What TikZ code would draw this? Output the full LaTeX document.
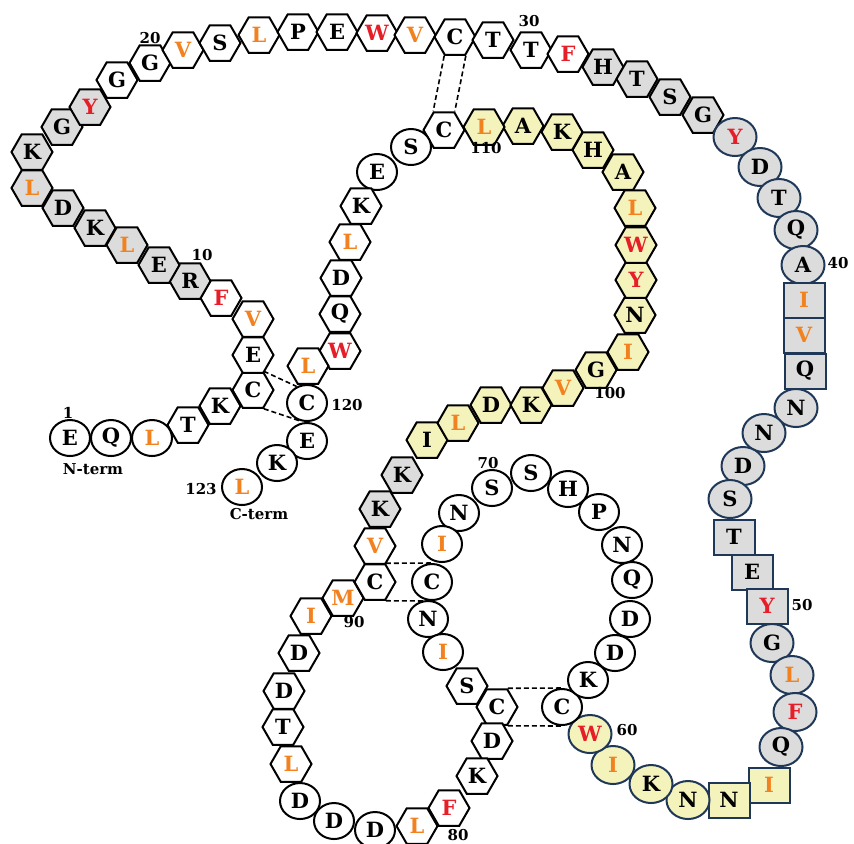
\documentclass[tikz,border=0pt]{standalone}
\usepackage{fontspec}
\setmainfont{DejaVu Serif}
\usepackage{tikz}
\usetikzlibrary{shapes.geometric}
\definecolor{resgray}{RGB}{220,220,220}
\definecolor{resyellow}{RGB}{245,243,188}
\definecolor{resnavy}{RGB}{31,56,88}
\definecolor{resorange}{RGB}{242,130,32}
\definecolor{resred}{RGB}{230,30,40}

\begin{document}
\begin{tikzpicture}[x=0.5pt, y=-0.5pt,
    res/.style={font=\fontsize{10.5}{10.5}\selectfont\bfseries, inner sep=0pt, line width=1pt},
    hexw/.style={res, regular polygon, regular polygon sides=6, minimum size=20.5pt, draw, fill=white},
    hexg/.style={hexw, fill=resgray},
    hexy/.style={hexw, fill=resyellow},
    ellw/.style={res, ellipse, minimum width=20pt, minimum height=18pt, draw, fill=white},
    ellg/.style={res, ellipse, minimum width=21.5pt, minimum height=19pt, draw=resnavy, fill=resgray},
    elly/.style={ellg, fill=resyellow},
    boxg/.style={res, rectangle, minimum width=20.5pt, minimum height=17.5pt, draw=resnavy, fill=resgray},
    boxy/.style={boxg, fill=resyellow},
    ora/.style={text=resorange},
    rd/.style={text=resred},
    lbl/.style={font=\fontsize{7.5}{7.5}\selectfont\bfseries, inner sep=0pt},
    ssbond/.style={dash pattern=on 2.5pt off 1.5pt, line width=0.8pt}]
  \useasboundingbox (0,0) rectangle (854,843);

  % N-terminal segment
  \node[ellw] (r1) at (70,438) {E};
  \node[ellw] (r2) at (111,438) {Q};
  \node[ellw, ora] (r3) at (152,438) {L};
  \node[hexw] (r4) at (188,425) {T};
  \node[hexw] (r5) at (220,406) {K};
  \node[hexw] (r6) at (253,390) {C};
  \node[hexw] (r7) at (253,355) {E};
  \node[hexw, ora] (r8) at (253,319) {V};
  \node[hexw, rd] (r9) at (221,298) {F};
  \node[hexg] (r10) at (190,281) {R};
  \node[hexg] (r11) at (159,265) {E};
  \node[hexg, ora] (r12) at (127,245) {L};
  \node[hexg] (r13) at (95,228) {K};
  \node[hexg] (r14) at (63,208) {D};
  \node[hexg, ora] (r15) at (32,188) {L};
  \node[hexg] (r16) at (32,152) {K};
  \node[hexg] (r17) at (62,127) {G};
  \node[hexg, rd] (r18) at (90,107) {Y};
  \node[hexw] (r19) at (117,80) {G};
  \node[hexw] (r20) at (150,63) {G};
  \node[hexw, ora] (r21) at (183,50) {V};
  \node[hexw] (r22) at (220,43) {S};
  \node[hexw, ora] (r23) at (259,35) {L};
  \node[hexw] (r24) at (298,32) {P};
  \node[hexw] (r25) at (337,32) {E};
  \node[hexw, rd] (r26) at (377,33) {W};
  \node[hexw, ora] (r27) at (415,35) {V};
  \node[hexw] (r28) at (455,37) {C};
  \node[hexw] (r29) at (493,40) {T};
  \node[hexw] (r30) at (531,50) {T};
  \node[hexw, rd] (r31) at (568,54) {F};
  \node[hexg] (r32) at (603,67) {H};
  \node[hexg] (r33) at (637,79) {T};
  \node[hexg] (r34) at (670,97) {S};
  \node[hexg] (r35) at (703,115) {G};

  % right-hand arc
  \node[ellg, rd] (r36) at (735,137) {Y};
  \node[ellg] (r37) at (760,167) {D};
  \node[ellg] (r38) at (779,198) {T};
  \node[ellg] (r39) at (796,230) {Q};
  \node[ellg] (r40) at (803,265) {A};
  \node[boxg, ora] (r41) at (804,300) {I};
  \node[boxg, ora] (r42) at (804,335) {V};
  \node[boxg] (r43) at (805,371) {Q};
  \node[ellg] (r44) at (796,408) {N};
  \node[ellg] (r45) at (764,433) {N};
  \node[ellg] (r46) at (743,466) {D};
  \node[ellg] (r47) at (730,499) {S};
  \node[boxg] (r48) at (734,537) {T};
  \node[boxg] (r49) at (752,572) {E};
  \node[boxg, rd] (r50) at (767,606) {Y};
  \node[ellg] (r51) at (772,643) {G};
  \node[ellg, ora] (r52) at (792,675) {L};
  \node[ellg, rd] (r53) at (795,712) {F};
  \node[ellg] (r54) at (781,747) {Q};
  \node[boxy, ora] (r55) at (769,785) {I};
  \node[boxy] (r56) at (729,800) {N};
  \node[elly] (r57) at (688,800) {N};
  \node[elly] (r58) at (651,784) {K};
  \node[elly, ora] (r59) at (613,765) {I};
  \node[elly, rd] (r60) at (590,734) {W};

  % lower loop
  \node[ellw] (r61) at (562,707) {C};
  \node[ellw] (r62) at (588,680) {K};
  \node[ellw] (r63) at (615,653) {D};
  \node[ellw] (r64) at (630,619) {D};
  \node[ellw] (r65) at (632,580) {Q};
  \node[ellw] (r66) at (622,545) {N};
  \node[ellw] (r67) at (599,512) {P};
  \node[ellw] (r68) at (568,489) {H};
  \node[ellw] (r69) at (531,473) {S};
  \node[ellw] (r70) at (492,488) {S};
  \node[ellw] (r71) at (459,513) {N};
  \node[ellw, ora] (r72) at (442,544) {I};
  \node[ellw] (r73) at (432,582) {C};
  \node[ellw] (r74) at (428,619) {N};
  \node[ellw, ora] (r75) at (443,652) {I};
  \node[hexw] (r76) at (467,686) {S};
  \node[hexw] (r77) at (497,707) {C};
  \node[hexw] (r78) at (492,741) {D};
  \node[hexw] (r79) at (477,776) {K};
  \node[hexw, rd] (r80) at (449,808) {F};
  \node[hexw, ora] (r81) at (417,826) {L};
  \node[ellw] (r82) at (375,830) {D};
  \node[ellw] (r83) at (334,821) {D};
  \node[ellw] (r84) at (300,801) {D};
  \node[hexw, ora] (r85) at (291,764) {L};
  \node[hexw] (r86) at (283,727) {T};
  \node[hexw] (r87) at (284,691) {D};
  \node[hexw] (r88) at (299,653) {D};
  \node[hexw, ora] (r89) at (311,616) {I};
  \node[hexw, ora] (r90) at (343,598) {M};
  \node[hexw] (r91) at (375,582) {C};
  \node[hexw, ora] (r92) at (375,546) {V};
  \node[hexg] (r93) at (380,509) {K};
  \node[hexg] (r94) at (402,475) {K};

  % yellow helix
  \node[hexy] (r95) at (427,440) {I};
  \node[hexy, ora] (r96) at (458,423) {L};
  \node[hexy] (r97) at (491,405) {D};
  \node[hexy] (r98) at (531,405) {K};
  \node[hexy, ora] (r99) at (563,388) {V};
  \node[hexy] (r100) at (596,370) {G};
  \node[hexy, ora] (r101) at (628,352) {I};
  \node[hexy] (r102) at (635,315) {N};
  \node[hexy, rd] (r103) at (636,280) {Y};
  \node[hexy, rd] (r104) at (636,245) {W};
  \node[hexy, ora] (r105) at (635,208) {L};
  \node[hexy] (r106) at (623,172) {A};
  \node[hexy] (r107) at (593,150) {H};
  \node[hexy] (r108) at (562,132) {K};
  \node[hexy] (r109) at (523,126) {A};
  \node[hexy, ora] (r110) at (484,127) {L};

  % C-terminal segment
  \node[hexw] (r111) at (444,130) {C};
  \node[ellw] (r112) at (411,147) {S};
  \node[ellw] (r113) at (377,172) {E};
  \node[hexw] (r114) at (361,206) {K};
  \node[hexw, ora] (r115) at (350,242) {L};
  \node[hexw] (r116) at (341,278) {D};
  \node[hexw] (r117) at (340,314) {Q};
  \node[hexw, rd] (r118) at (340,351) {W};
  \node[hexw, ora] (r119) at (308,366) {L};
  \node[ellw] (r120) at (307,403) {C};
  \node[ellw] (r121) at (307,441) {E};
  \node[ellw] (r122) at (277,463) {K};
  \node[ellw, ora] (r123) at (242,487) {L};

  % disulfide bonds
  \draw[ssbond] (r28.240) -- (r111.120);
  \draw[ssbond] (r28.300) -- (r111.60);
  \draw[ssbond] (r6.60) -- (r120.122);
  \draw[ssbond] (r6.300) -- (r120.246);
  \draw[ssbond] (r91.60) -- (r73.north);
  \draw[ssbond] (r91.300) -- (r73.south);
  \draw[ssbond] (r77.60) -- (r61.north);
  \draw[ssbond] (r77.300) -- (r61.south);

  % numbering
  \node[lbl] (n1) at (68,413) {1};
  \node[lbl] (nterm) at (93,469) {N-term};
  \node[lbl] (n10) at (202,255) {10};
  \node[lbl] (n20) at (150,38) {20};
  \node[lbl] (n30) at (529,21) {30};
  \node[lbl] (n40) at (838,263) {40};
  \node[lbl] (n50) at (802,605) {50};
  \node[lbl] (n60) at (627,730) {60};
  \node[lbl] (n70) at (488,463) {70};
  \node[lbl] (n80) at (458,835) {80};
  \node[lbl] (n90) at (354,622) {90};
  \node[lbl] (n100) at (610,393) {100};
  \node[lbl] (n110) at (486,148) {110};
  \node[lbl] (n120) at (347,405) {120};
  \node[lbl] (n123) at (201,489) {123};
  \node[lbl] (cterm) at (259,514) {C-term};
\end{tikzpicture}
\end{document}
